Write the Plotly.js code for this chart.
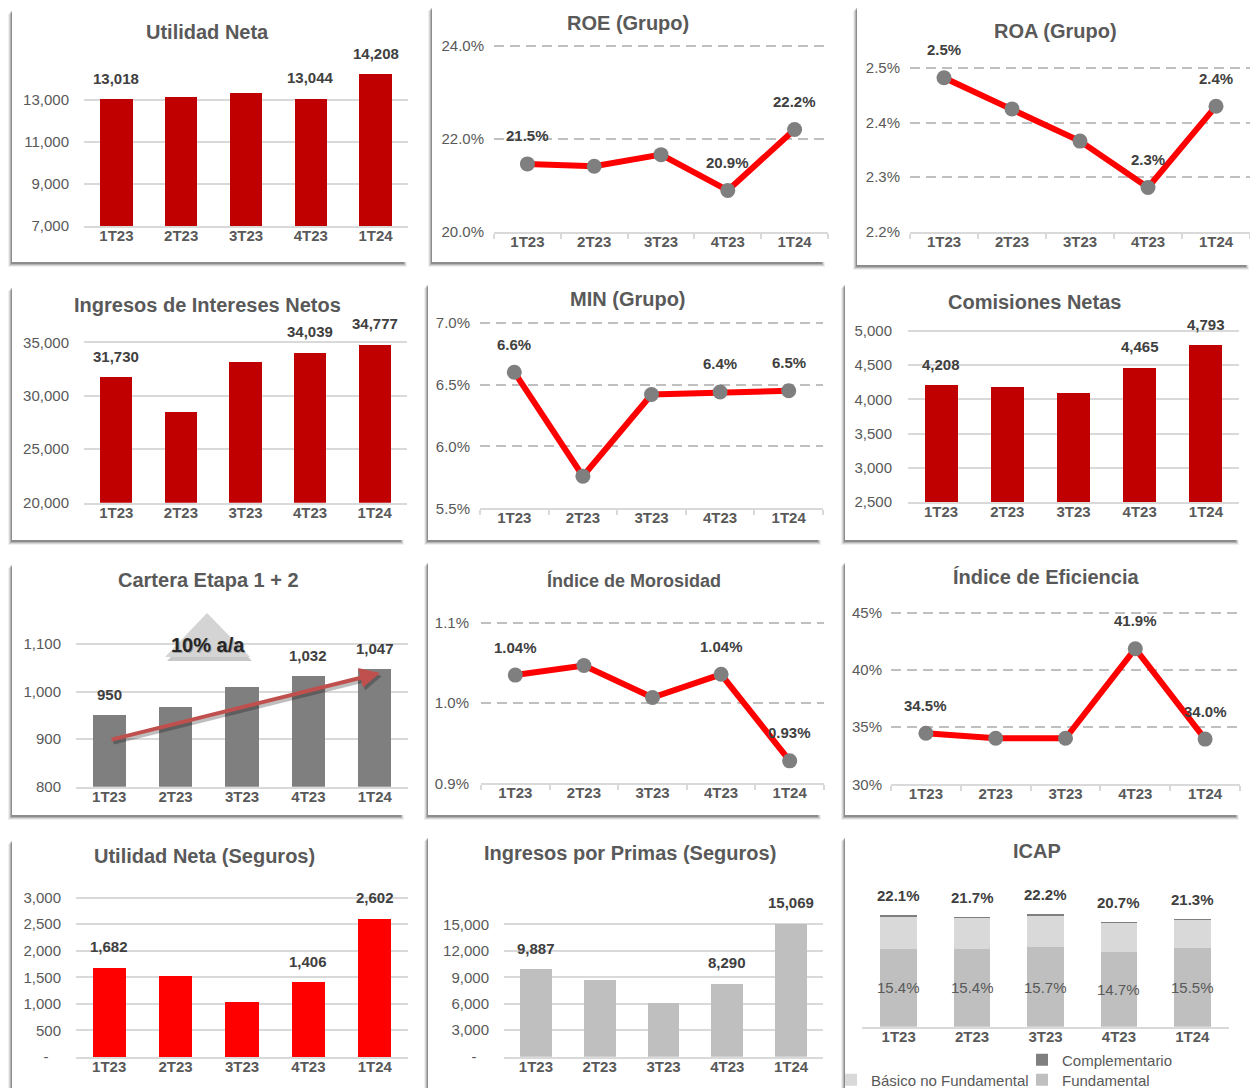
<!DOCTYPE html>
<html><head><meta charset="utf-8">
<script src="https://cdn.plot.ly/plotly-3.0.1.min.js"></script>
<style>html,body{margin:0;padding:0;background:#fff}#chart{width:1250px;height:1088px}</style>
</head><body><div id="chart"></div><script>
const categories = ['1T23','2T23','3T23','4T23','1T24'];

const utilidadNeta = [13018, 13110, 13300, 13044, 14208];
const utilidadNetaLabels = ['13,018','','','13,044','14,208'];
const utilidadNetaTicks = [7000, 9000, 11000, 13000];
const utilidadNetaTickText = ['7,000','9,000','11,000','13,000'];

const roe = [21.46, 21.41, 21.66, 20.89, 22.2];
const roeLabels = ['21.5%','','','20.9%','22.2%'];
const roeTicks = [20, 22, 24];
const roeTickText = ['20.0%','22.0%','24.0%'];

const roa = [2.482, 2.425, 2.366, 2.281, 2.43];
const roaLabels = ['2.5%','','','2.3%','2.4%'];
const roaTicks = [2.2, 2.3, 2.4, 2.5];
const roaTickText = ['2.2%','2.3%','2.4%','2.5%'];

const ingresosIntereses = [31730, 28440, 33160, 34039, 34777];
const ingresosInteresesLabels = ['31,730','','','34,039','34,777'];
const ingresosInteresesTicks = [20000, 25000, 30000, 35000];
const ingresosInteresesTickText = ['20,000','25,000','30,000','35,000'];

const minGrupo = [6.6, 5.76, 6.42, 6.44, 6.45];
const minGrupoLabels = ['6.6%','','','6.4%','6.5%'];
const minGrupoTicks = [5.5, 6.0, 6.5, 7.0];
const minGrupoTickText = ['5.5%','6.0%','6.5%','7.0%'];

const comisiones = [4208, 4185, 4095, 4465, 4793];
const comisionesLabels = ['4,208','','','4,465','4,793'];
const comisionesTicks = [2500, 3000, 3500, 4000, 4500, 5000];
const comisionesTickText = ['2,500','3,000','3,500','4,000','4,500','5,000'];

const cartera = [950, 967, 1009, 1032, 1047];
const carteraLabels = ['950','','','1,032','1,047'];
const carteraTicks = [800, 900, 1000, 1100];
const carteraTickText = ['800','900','1,000','1,100'];
const carteraGrowth = '10% a/a';

const morosidad = [1.035, 1.047, 1.007, 1.036, 0.928];
const morosidadLabels = ['1.04%','','','1.04%','0.93%'];
const morosidadTicks = [0.9, 1.0, 1.1];
const morosidadTickText = ['0.9%','1.0%','1.1%'];

const eficiencia = [34.46, 34.02, 34.02, 41.85, 33.95];
const eficienciaLabels = ['34.5%','','','41.9%','34.0%'];
const eficienciaTicks = [30, 35, 40, 45];
const eficienciaTickText = ['30%','35%','40%','45%'];

const utilidadSeguros = [1682, 1530, 1040, 1406, 2602];
const utilidadSegurosLabels = ['1,682','','','1,406','2,602'];
const utilidadSegurosTicks = [0, 500, 1000, 1500, 2000, 2500, 3000];
const utilidadSegurosTickText = ['-\u00a0\u00a0\u00a0','500','1,000','1,500','2,000','2,500','3,000'];

const primas = [9887, 8650, 6120, 8290, 15069];
const primasLabels = ['9,887','','','8,290','15,069'];
const primasTicks = [0, 3000, 6000, 9000, 12000, 15000];
const primasTickText = ['-\u00a0\u00a0\u00a0','3,000','6,000','9,000','12,000','15,000'];

const icapSeries = ['Fundamental','Básico no Fundamental','Complementario'];
const icapFundamental = [15.4, 15.4, 15.7, 14.7, 15.5];
const icapBasicoNoFund = [6.25, 6.05, 6.3, 5.75, 5.55];
const icapComplementario = [0.45, 0.25, 0.2, 0.25, 0.25];
const icapTotalLabels = ['22.1%','21.7%','22.2%','20.7%','21.3%'];
const icapFundLabels = ['15.4%','15.4%','15.7%','14.7%','15.5%'];

const titles = ['Utilidad Neta','ROE (Grupo)','ROA (Grupo)','Ingresos de Intereses Netos','MIN (Grupo)','Comisiones Netas','Cartera Etapa 1 + 2','Índice de Morosidad','Índice de Eficiencia','Utilidad Neta (Seguros)','Ingresos por Primas (Seguros)','ICAP'];

// ---------- layout helpers ----------
const W = 1250, H = 1088;
const FONT = 'Liberation Sans, Arial, sans-serif';
const TXT = '#595959', LBL = '#404040';
function xd(l, r) { return [l / W, Math.min(1, r / W)]; }
function yd(v1, p1, v2, p2, r0, r1) {
  const k = (p1 - p2) / (v2 - v1);
  const top = p1 - (r1 - v1) * k, bot = p1 + (v1 - r0) * k;
  return [1 - bot / H, 1 - top / H];
}
const px = x => x / W, py = y => 1 - y / H;

const panels = [
  {kind:'bar', values:utilidadNeta, labels:utilidadNetaLabels, ticks:utilidadNetaTicks, tt:utilidadNetaTickText, color:'#C00000', x:[84,408], y:[7000,226,13000,99.7,7000,14800], so:14, t:[207,32]},
  {kind:'line', values:roe, labels:roeLabels, ticks:roeTicks, tt:roeTickText, x:[494,828], y:[20,231.7,24,46,20,24.05], so:9, t:[628,23]},
  {kind:'line', values:roa, labels:roaLabels, ticks:roaTicks, tt:roaTickText, x:[910,1250], y:[2.2,231.7,2.5,68,2.2,2.505], so:9, t:[1055,31]},
  {kind:'bar', values:ingresosIntereses, labels:ingresosInteresesLabels, ticks:ingresosInteresesTicks, tt:ingresosInteresesTickText, color:'#C00000', x:[84,407], y:[20000,502.7,35000,342.3,20000,35300], so:14, t:[207,305]},
  {kind:'line', values:minGrupo, labels:minGrupoLabels, ticks:minGrupoTicks, tt:minGrupoTickText, x:[480,823], y:[5.5,508.3,7.0,322.7,5.5,7.02], so:9, t:[628,299]},
  {kind:'bar', values:comisiones, labels:comisionesLabels, ticks:comisionesTicks, tt:comisionesTickText, color:'#C00000', x:[908,1239], y:[2500,502,5000,331,2500,5030], so:15, t:[1034,302]},
  {kind:'bar', values:cartera, labels:carteraLabels, ticks:carteraTicks, tt:carteraTickText, color:'#7F7F7F', x:[76,408], y:[800,786.7,1100,644,800,1110], so:14, t:[208,580]},
  {kind:'line', values:morosidad, labels:morosidadLabels, ticks:morosidadTicks, tt:morosidadTickText, x:[481,824], y:[0.9,783.3,1.1,623,0.9,1.103], so:11, t:[634,580], ts:18},
  {kind:'line', values:eficiencia, labels:eficienciaLabels, ticks:eficienciaTicks, tt:eficienciaTickText, x:[891,1240], y:[30,784.3,45,612.7,30,45.2], so:8, t:[1046,577]},
  {kind:'bar', values:utilidadSeguros, labels:utilidadSegurosLabels, ticks:utilidadSegurosTicks, tt:utilidadSegurosTickText, color:'#FF0000', x:[76,408], y:[0,1057,3000,897.7,0,3030], so:14, t:[204,856]},
  {kind:'bar', values:primas, labels:primasLabels, ticks:primasTicks, tt:primasTickText, color:'#BFBFBF', x:[504,823], y:[0,1056.7,15000,924.3,0,15150], so:14, t:[630,853]},
  {kind:'icap', x:[862,1229], y:[0,1026.7,22.1,915,0,25], t:[1037,851]}
];

const cards = [
  [12,408,8,262],[432,826,5,262],[857,1250,5,265],
  [12,405,285,540],[428,822,282,540],[845,1240,282,540],
  [12,405,562,815],[428,822,560,815],[845,1240,560,815],
  [12,410,838,1095],[428,822,835,1095],[845,1240,835,1095]
];

const traces = [], annotations = [], shapes = [];
const layout = {
  width: W, height: H, margin: {l:0, r:0, t:0, b:0, pad:0, autoexpand:false},
  paper_bgcolor: '#ffffff', plot_bgcolor: 'rgba(0,0,0,0)',
  barmode: 'stack', bargap: 0.5, showlegend: true,
  font: {family: FONT, color: TXT, size: 15},
  annotations, shapes
};

// cards with soft shadow (left + bottom)
cards.forEach(([l, r, t, b]) => {
  [[4, 0.06], [3, 0.1], [2, 0.16], [1, 0.22]].forEach(([o, a]) => {
    shapes.push({type:'rect', xref:'paper', yref:'paper', layer:'below',
      x0: px(l - o), x1: px(r - 5 + o), y0: py(b + o + 1), y1: py(t + o + 2),
      fillcolor: `rgba(0,0,0,${a})`, line: {width: 0}});
  });
  shapes.push({type:'rect', xref:'paper', yref:'paper', layer:'below',
    x0: px(l), x1: px(r), y0: py(b), y1: py(t), fillcolor: '#ffffff', line: {width: 0}});
});

function paperText(x, y, text, font) {
  annotations.push({xref:'paper', yref:'paper', x: px(x), y: py(y), xanchor:'center', yanchor:'middle',
    showarrow:false, text, font});
}

panels.forEach((p, idx) => {
  const s = idx === 0 ? '' : String(idx + 1);
  const xr = 'x' + s, yr = 'y' + s;
  const isLine = p.kind === 'line';
  layout['xaxis' + s] = {
    domain: xd(p.x[0], p.x[1]), anchor: yr, type: 'category', range: [-0.5, 4.5],
    showline: true, linecolor: '#D9D9D9', linewidth: 2, showgrid: false, zeroline: false,
    ticks: isLine ? 'outside' : '', tickson: 'boundaries', ticklen: 5, tickcolor: '#D9D9D9', tickwidth: 2,
    ticklabelstandoff: isLine ? -5 : -5,
    tickfont: {family: FONT, size: 15, color: TXT, weight: 700}, fixedrange: true
  };
  const yaxis = {
    domain: yd(...p.y), anchor: xr, range: [p.y[4], p.y[5]], zeroline: false, showline: false,
    fixedrange: true, ticks: ''
  };
  if (p.kind === 'icap') {
    Object.assign(yaxis, {visible: false, showgrid: false});
  } else {
    Object.assign(yaxis, {
      tickmode: 'array', tickvals: p.ticks, ticktext: p.tt, showgrid: true,
      gridcolor: isLine ? '#BFBFBF' : '#D9D9D9', gridwidth: 2, griddash: isLine ? '10px,6px' : 'solid',
      tickfont: {family: FONT, size: 15, color: TXT}, ticklabelstandoff: p.so
    });
  }
  layout['yaxis' + s] = yaxis;

  paperText(p.t[0], p.t[1], '<b>' + titles[idx] + '</b>', {family: FONT, size: p.ts || 20, color: TXT});

  if (p.kind === 'bar') {
    traces.push({type:'bar', x: categories, y: p.values, xaxis: xr, yaxis: yr, showlegend:false,
      marker: {color: p.color, line: {width: 0}}, hoverinfo:'skip', cliponaxis:false});
  } else if (isLine) {
    traces.push({type:'scatter', mode:'lines+markers', x: categories, y: p.values, xaxis: xr, yaxis: yr,
      showlegend:false, line: {color:'#FF0000', width:6}, marker: {color:'#7F7F7F', size:15},
      hoverinfo:'skip', cliponaxis:false});
  }
  if (p.labels) {
    p.labels.forEach((t, i) => {
      if (!t) return;
      annotations.push({xref: xr, yref: yr, x: categories[i], y: p.values[i], showarrow:false,
        xanchor:'center', yanchor:'middle',
        yshift: isLine ? 28 : 21, text: '<b>' + t + '</b>', font: {family: FONT, size: 15, color: LBL}});
    });
  }
  if (p.kind === 'icap') {
    const stacks = [icapFundamental, icapBasicoNoFund, icapComplementario];
    const colors = ['#BFBFBF', '#D9D9D9', '#7F7F7F'];
    const legends = ['legend3', 'legend2', 'legend'];
    stacks.forEach((arr, k) => {
      traces.push({type:'bar', name: icapSeries[k], x: categories, y: arr, xaxis: xr, yaxis: yr,
        marker: {color: colors[k]}, legend: legends[k], showlegend: true, hoverinfo:'skip'});
    });
    categories.forEach((c, i) => {
      const total = icapFundamental[i] + icapBasicoNoFund[i] + icapComplementario[i];
      annotations.push({xref: xr, yref: yr, x: c, y: total, yshift: 20, showarrow:false,
        xanchor:'center', yanchor:'middle',
        text: '<b>' + icapTotalLabels[i] + '</b>', font: {family: FONT, size: 15, color: LBL}});
      annotations.push({xref: xr, yref: yr, x: c, y: icapFundamental[i] / 2, showarrow:false,
        xanchor:'center', yanchor:'middle',
        text: icapFundLabels[i], font: {family: FONT, size: 15, color: TXT}});
    });
  }
});

// legends for ICAP
const legFont = {family: FONT, size: 15, color: TXT};
layout.legend  = {x: px(1022), y: py(1060), xanchor:'left', yanchor:'middle', orientation:'h', font: legFont, bgcolor:'rgba(0,0,0,0)'};
layout.legend2 = {x: px(831),  y: py(1080), xanchor:'left', yanchor:'middle', orientation:'h', font: legFont, bgcolor:'rgba(0,0,0,0)'};
layout.legend3 = {x: px(1022), y: py(1080), xanchor:'left', yanchor:'middle', orientation:'h', font: legFont, bgcolor:'rgba(0,0,0,0)'};

// Cartera decorations: growth triangle and trend arrow
const tri = (dx, dy) => `M ${px(207+dx)} ${py(613+dy)} L ${px(250+dx)} ${py(657+dy)} L ${px(165+dx)} ${py(657+dy)} Z`;
shapes.push({type:'path', xref:'paper', yref:'paper', layer:'above', path: tri(2, 4), fillcolor:'rgba(0,0,0,0.22)', line:{width:0}});
shapes.push({type:'path', xref:'paper', yref:'paper', layer:'above', path: tri(0, 0), fillcolor:'#D4D4D4', line:{width:0}});
paperText(209, 646, '<b>' + carteraGrowth + '</b>', {family: FONT, size: 20, color: 'rgba(0,0,0,0.25)'});
paperText(208, 645, '<b>' + carteraGrowth + '</b>', {family: FONT, size: 20, color: '#262626'});
annotations.push({xref:'paper', yref:'paper', x: px(382), y: py(676), ax: -270, ay: 67, text:'',
  showarrow:true, arrowhead:2, arrowsize:1, arrowwidth:4, arrowcolor:'rgba(0,0,0,0.25)', standoff:0});
annotations.push({xref:'paper', yref:'paper', x: px(380), y: py(673), ax: -270, ay: 67, text:'',
  showarrow:true, arrowhead:2, arrowsize:1, arrowwidth:4, arrowcolor:'#C0504D', standoff:0});

Plotly.newPlot('chart', traces, layout, {displayModeBar:false, staticPlot:true});
</script></body></html>
